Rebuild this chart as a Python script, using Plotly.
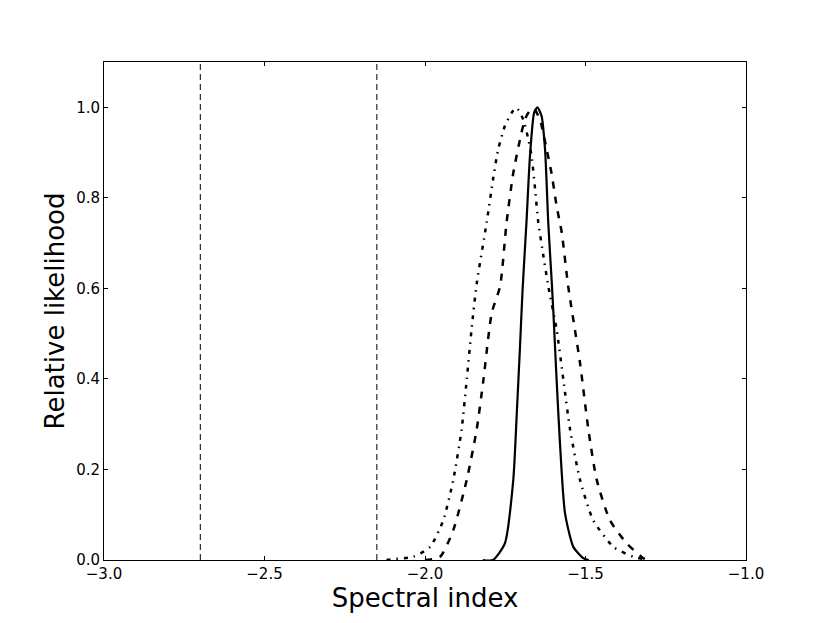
import plotly.graph_objects as go

# vertical reference lines (spectral index values)
ref_lines = [-2.70, -2.15]

# solid curve
solid_x = [-1.82, -1.788, -1.751, -1.725, -1.714, -1.704, -1.696, -1.684, -1.673, -1.660, -1.650,
           -1.637, -1.626, -1.616, -1.605, -1.600, -1.590, -1.579, -1.564, -1.538, -1.507, -1.49]
solid_y = [0.0, 0.0, 0.037, 0.177, 0.325, 0.472, 0.597, 0.745, 0.892, 0.988, 1.0,
           0.981, 0.907, 0.745, 0.612, 0.546, 0.398, 0.251, 0.104, 0.029, 0.004, 0.0]

# dashed curve
dash_x = [-2.00, -1.953, -1.912, -1.870, -1.839, -1.818, -1.792, -1.766, -1.746, -1.725, -1.704,
          -1.689, -1.678, -1.663, -1.642, -1.621, -1.606, -1.590, -1.574, -1.554, -1.517, -1.491,
          -1.465, -1.424, -1.372, -1.320, -1.31]
dash_y = [0.0, 0.007, 0.066, 0.177, 0.288, 0.398, 0.546, 0.605, 0.745, 0.855, 0.929,
          0.973, 0.988, 0.999, 0.973, 0.907, 0.855, 0.782, 0.723, 0.605, 0.435, 0.288,
          0.177, 0.088, 0.037, 0.004, 0.0]

# dash-dot curve
dd_x = [-2.12, -2.099, -2.037, -1.984, -1.943, -1.912, -1.886, -1.870, -1.855, -1.839,
        -1.808, -1.788, -1.772, -1.751, -1.730, -1.715, -1.694, -1.678, -1.668, -1.657, -1.647,
        -1.631, -1.616, -1.590, -1.569, -1.548, -1.517, -1.476, -1.413, -1.351, -1.320, -1.31]
dd_y = [0.0, 0.002, 0.007, 0.029, 0.088, 0.177, 0.288, 0.398, 0.509, 0.610,
        0.745, 0.841, 0.907, 0.959, 0.988, 0.999, 0.973, 0.929, 0.892, 0.819, 0.745,
        0.671, 0.605, 0.509, 0.398, 0.288, 0.177, 0.088, 0.029, 0.007, 0.002, 0.0]

fig = go.Figure()

for xv in ref_lines:
    fig.add_trace(go.Scatter(x=[xv, xv], y=[0, 1.1], mode='lines',
                             line=dict(color='black', width=1, dash='6px,4px')))

fig.add_trace(go.Scatter(x=dd_x, y=dd_y, mode='lines',
                         line=dict(color='black', width=2.5, dash='4px,6px,1.5px,6px',
                                   shape='spline', smoothing=0.6)))
fig.add_trace(go.Scatter(x=dash_x, y=dash_y, mode='lines',
                         line=dict(color='black', width=2.5, dash='7px,8px',
                                   shape='spline', smoothing=0.6)))
fig.add_trace(go.Scatter(x=solid_x, y=solid_y, mode='lines',
                         line=dict(color='black', width=2.2, shape='spline', smoothing=0.6)))

axis_style = dict(showgrid=False, zeroline=False, showline=True, linecolor='black',
                  linewidth=1, mirror='allticks', ticks='inside', ticklen=4,
                  tickcolor='black', tickfont=dict(family='DejaVu Sans', size=15, color='black'))

fig.update_xaxes(range=[-3, -1], tickvals=[-3, -2.5, -2, -1.5, -1], tickformat='.1f',
                 title=dict(text='Spectral index', font=dict(family='DejaVu Sans', size=26, color='black'),
                            standoff=2),
                 **axis_style)
fig.update_yaxes(range=[0, 1.1], tickvals=[0, 0.2, 0.4, 0.6, 0.8, 1.0], tickformat='.1f',
                 title=dict(text='Relative likelihood', font=dict(family='DejaVu Sans', size=26, color='black'),
                            standoff=4),
                 **axis_style)

fig.update_layout(width=822, height=615, showlegend=False,
                  paper_bgcolor='white', plot_bgcolor='white',
                  margin=dict(l=96, r=84, t=54, b=63))

fig.write_html("out.html")
